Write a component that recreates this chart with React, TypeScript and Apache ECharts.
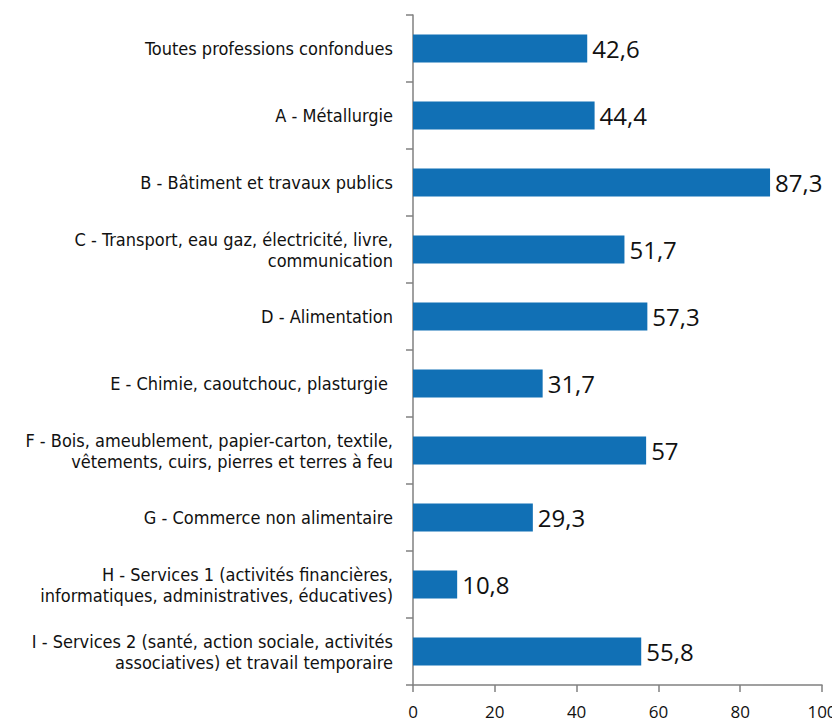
import React, { useEffect, useRef } from "react";
import * as echarts from "echarts";

const categories = [
  "Toutes professions confondues",
  "A - Métallurgie",
  "B - Bâtiment et travaux publics",
  "C - Transport, eau gaz, électricité, livre,\ncommunication",
  "D - Alimentation",
  "E - Chimie, caoutchouc, plasturgie ",
  "F - Bois, ameublement, papier-carton, textile,\nvêtements, cuirs, pierres et terres à feu",
  "G - Commerce non alimentaire",
  "H - Services 1 (activités financières,\ninformatiques, administratives, éducatives)",
  "I - Services 2 (santé, action sociale, activités\nassociatives) et travail temporaire",
];
const values = [42.6, 44.4, 87.3, 51.7, 57.3, 31.7, 57, 29.3, 10.8, 55.8];
const xTicks = [0, 20, 40, 60, 80, 100];

export default function App() {
  const ref = useRef<HTMLDivElement>(null);
  useEffect(() => {
    if (!ref.current) return;
    const chart = echarts.init(ref.current, undefined, { renderer: "svg" });
    chart.setOption({
      animation: false,
      grid: { left: 413, right: 18, top: 15, bottom: 42, containLabel: false },
      xAxis: {
        type: "value",
        min: xTicks[0],
        max: xTicks[xTicks.length - 1],
        interval: 20,
        axisLine: { show: true, lineStyle: { color: "#808080", width: 1.5 } },
        axisTick: { show: true, length: 7, lineStyle: { color: "#808080", width: 1.5 } },
        splitLine: { show: false },
        axisLabel: {
          color: "#111",
          fontSize: 17,
          fontFamily: "'Open Sans', 'Noto Sans', sans-serif",
          margin: 18,
        },
      },
      yAxis: {
        type: "category",
        data: categories,
        inverse: true,
        axisLine: { show: true, lineStyle: { color: "#808080", width: 1.5 } },
        axisTick: { show: true, length: 7, lineStyle: { color: "#808080", width: 1.5 } },
        axisLabel: {
          color: "#111",
          fontSize: 18,
          lineHeight: 21,
          fontFamily: "'DejaVu Sans Condensed', 'Liberation Sans Narrow', sans-serif",
          margin: 20,
          align: "right",
        },
      },
      series: [
        {
          type: "bar",
          data: values,
          barWidth: 28,
          itemStyle: { color: "#1170b5" },
          label: {
            show: true,
            position: "right",
            distance: 5,
            color: "#111",
            fontSize: 24,
            fontFamily: "'Open Sans', 'Noto Sans', sans-serif",
            formatter: (p: any) => String(p.value).replace(".", ","),
          },
        },
      ],
    });
    return () => chart.dispose();
  }, []);
  return <div ref={ref} style={{ width: 840, height: 727, margin: -8 }} />;
}
